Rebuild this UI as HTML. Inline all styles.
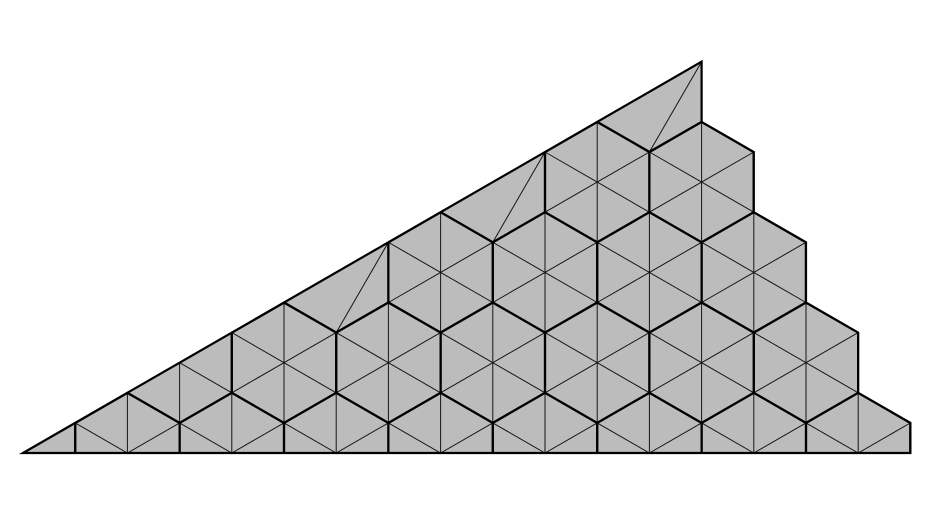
<!DOCTYPE html>
<html><head><meta charset="utf-8"><style>
html,body{margin:0;padding:0;background:#fff;width:933px;height:512px;overflow:hidden}
svg{display:block;overflow:hidden}
</style></head><body>
<svg id="mesh" width="933" height="512" viewBox="0 0 933 512" xmlns="http://www.w3.org/2000/svg">
<defs><clipPath id="dom"><polygon id="domclip"/></clipPath></defs>
<polygon id="domain" fill="#bcbcbc" stroke="none"/>
<g id="thin" clip-path="url(#dom)" stroke="#151515" stroke-width="1" fill="none"></g>
<g id="thick" clip-path="url(#dom)" stroke="#000" stroke-width="2.2" fill="none"></g>
<polygon id="outline" fill="none" stroke="#000" stroke-width="2.2" stroke-linejoin="miter"/>
</svg>
<script>
// boundary vertices in lattice coordinates (column i, half-row j)
const boundaryI = [0, 13, 13, 14, 14, 15, 15, 16, 16, 17, 17];
const boundaryJ = [0, 13, 11, 10, 8, 7, 5, 4, 2, 1, 0];
// modified quads along hypotenuse: diagonal from (k,k-2) to (k+1,k+1)
const skewCols = [6, 9, 12];
const X0 = 23, DX = 52.2, Y0 = 453, DY = 30.1;
function px(i){ return X0 + DX*i; }
function py(j){ return Y0 - DY*j; }
const NS = 'http://www.w3.org/2000/svg';
const pts = boundaryI.map((i,k)=>px(i)+','+py(boundaryJ[k])).join(' ');
document.getElementById('domain').setAttribute('points', pts);
document.getElementById('domclip').setAttribute('points', pts);
document.getElementById('outline').setAttribute('points', pts);
function line(g, i1, j1, i2, j2, name){
  if (Math.max(j1,j2) <= 0 || Math.min(j1,j2) < -1) return;
  if (Math.min(i1,i2) < 0 || Math.max(i1,i2) > 17) return;
  if (Math.min(j1,j2) > 13) return;
  const l = document.createElementNS(NS,'line');
  l.setAttribute('x1', px(i1)); l.setAttribute('y1', py(j1));
  l.setAttribute('x2', px(i2)); l.setAttribute('y2', py(j2));
  
  
  g.appendChild(l);
}
const thin = document.getElementById('thin');
const thick = document.getElementById('thick');
function skipped(i1,j1,i2,j2){
  for (const k of skewCols){
    if (i1===k && j1===k-2 && i2===k && j2===k) return true;
    if (i1===k && j1===k && i2===k+1 && j2===k-1) return true;
  }
  return false;
}
for (let i=0;i<=17;i++){
  for (let j=-1;j<=15;j++){
    if (((i+j)%2+2)%2!==0) continue;
    if (!skipped(i,j,i,j+2)) line(thin,i,j,i,j+2,'mesh-edge');
    if (!skipped(i,j,i+1,j+1)) line(thin,i,j,i+1,j+1,'mesh-edge');
    if (!skipped(i,j,i+1,j-1)) line(thin,i,j,i+1,j-1,'mesh-edge');
  }
}
for (const k of skewCols) line(thin,k,k-2,k+1,k+1,'skewed-edge');
// hexagon centers: (2,0) + m*(2,0) + n*(1,3)
for (let n=-1;n<=6;n++){
  for (let m=-8;m<=10;m++){
    const ci=2+2*m+n, cj=3*n;
    if (ci<-1||ci>18) continue;
    const v=[[0,2],[1,1],[1,-1],[0,-2],[-1,-1],[-1,1]];
    for (let k=0;k<6;k++){
      const p=v[k], q=v[(k+1)%6];
      line(thick,ci+p[0],cj+p[1],ci+q[0],cj+q[1],'hexagon-edge');
    }
  }
}
</script>
</body></html>
